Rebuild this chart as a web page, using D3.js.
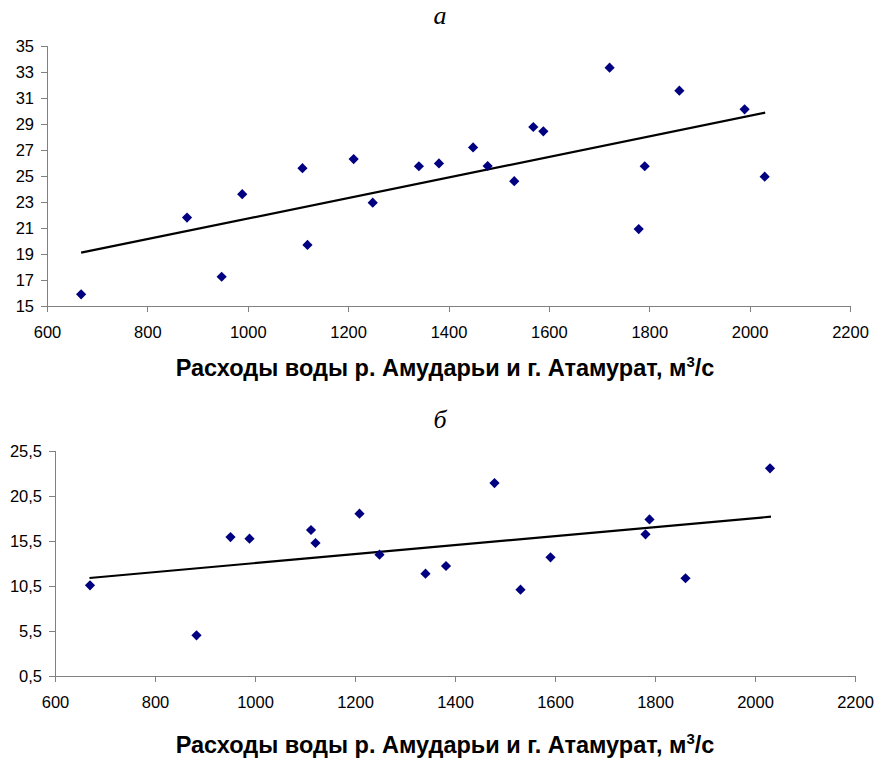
<!DOCTYPE html>
<html>
<head>
<meta charset="utf-8">
<script src="https://cdn.jsdelivr.net/npm/d3@7"></script>
<style>
  body { margin: 0; background: #fff; }
  svg { display: block; }
  .axis path, .axis line { stroke: #808080; shape-rendering: crispEdges; }
  .axis text { font-family: "Liberation Sans", Arial, sans-serif; font-size: 16.5px; fill: #000; }
  .ttl { font-family: "Liberation Sans", Arial, sans-serif; font-size: 23.5px; font-weight: bold; }
  .letter { font-family: "Liberation Serif", "Times New Roman", serif; font-style: italic; font-size: 26px; }
</style>
</head>
<body>
<svg id="chart" width="875" height="760"></svg>
<script>
// данные (а)
const qA = [668, 879, 948, 989, 1109, 1119, 1211, 1249, 1341, 1381, 1449, 1478, 1531, 1569, 1589, 1721, 1779, 1791, 1860, 1990, 2030];
const valA = [15.9, 21.8, 17.25, 23.6, 25.6, 19.7, 26.3, 22.95, 25.75, 25.97, 27.2, 25.77, 24.6, 28.77, 28.44, 33.33, 20.92, 25.75, 31.56, 30.13, 24.95];
const trendA = [[668, 19.1], [2031, 29.87]];
const yTicksA = [15, 17, 19, 21, 23, 25, 27, 29, 31, 33, 35];

// данные (б)
const qB = [670, 883, 951, 989, 1112, 1121, 1209, 1249, 1341, 1382, 1479, 1531, 1591, 1781, 1789, 1861, 2030];
const valB = [10.58, 5.02, 15.94, 15.76, 16.72, 15.28, 18.54, 13.98, 11.87, 12.72, 21.94, 10.09, 13.69, 16.24, 17.9, 11.36, 23.57];
const trendB = [[669, 11.39], [2032, 18.2]];
const yTicksB = [0.5, 5.5, 10.5, 15.5, 20.5, 25.5];

const xTicks = [600, 800, 1000, 1200, 1400, 1600, 1800, 2000, 2200];
const xTitle = 'Расходы воды р. Амударьи и г. Атамурат, м';

const svg = d3.select('#chart');

function drawPanel(cfg) {
  const x = d3.scaleLinear().domain([600, 2200]).range([cfg.left, cfg.right]);
  const y = d3.scaleLinear().domain(cfg.yDomain).range([cfg.bottom, cfg.top]);
  const g = svg.append('g');

  // буква панели
  g.append('text').attr('class', 'letter')
    .attr('x', 440).attr('y', cfg.letterY)
    .attr('text-anchor', 'middle').text(cfg.letter);

  // оси
  g.append('g').attr('class', 'axis')
    .attr('transform', `translate(0,${cfg.bottom})`)
    .call(d3.axisBottom(x).tickValues(xTicks).tickFormat(d3.format('d')).tickSizeOuter(0).tickSize(6).tickPadding(14));

  g.append('g').attr('class', 'axis')
    .attr('transform', `translate(${cfg.left},0)`)
    .call(d3.axisLeft(y).tickValues(cfg.yTicks).tickFormat(cfg.fmt).tickSizeOuter(0).tickSize(6).tickPadding(7));

  // линия тренда
  g.append('line')
    .attr('x1', x(cfg.trend[0][0])).attr('y1', y(cfg.trend[0][1]))
    .attr('x2', x(cfg.trend[1][0])).attr('y2', y(cfg.trend[1][1]))
    .attr('stroke', '#000').attr('stroke-width', 2.2);

  // точки (ромбы)
  const sym = d3.symbol().type(d3.symbolSquare).size(52);
  g.selectAll('.pt').data(cfg.xs).enter().append('path')
    .attr('class', 'pt')
    .attr('d', sym)
    .attr('fill', '#000080')
    .attr('transform', (d, i) => `translate(${x(d)},${y(cfg.ys[i])}) rotate(45)`);

  // подпись оси X
  const t = g.append('text').attr('class', 'ttl')
    .attr('x', 445).attr('y', cfg.titleY).attr('text-anchor', 'middle');
  t.append('tspan').text(xTitle);
  t.append('tspan').attr('dy', -9).attr('font-size', '15px').text('3');
  t.append('tspan').attr('dy', 9).text('/с');
}

drawPanel({
  left: 47, right: 850, top: 46, bottom: 306,
  yDomain: [15, 35], yTicks: yTicksA, fmt: d3.format('d'),
  xs: qA, ys: valA, trend: trendA,
  letter: 'а', letterY: 24, titleY: 376
});

drawPanel({
  left: 55, right: 855, top: 451, bottom: 676,
  yDomain: [0.5, 25.5], yTicks: yTicksB, fmt: d => d3.format('.1f')(d).replace('.', ','),
  xs: qB, ys: valB, trend: trendB,
  letter: 'б', letterY: 428, titleY: 753
});
</script>
</body>
</html>
